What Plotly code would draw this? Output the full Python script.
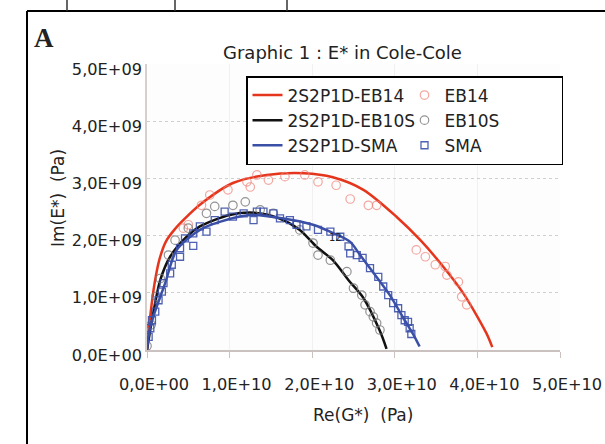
import plotly.graph_objects as go

# ---------------- data (x in 1e10 Pa for Re, y in 1e9 Pa for Im) ----------------
fit_eb14_x = [0.0, 0.04, 0.09, 0.15, 0.23, 0.33, 0.46, 0.64, 1.04, 1.45, 1.90, 2.25, 2.62, 3.02, 3.31, 3.55, 3.83, 4.11, 4.18]
fit_eb14_y = [0.0, 0.60, 1.15, 1.58, 1.90, 2.10, 2.30, 2.54, 2.92, 3.06, 3.09, 3.02, 2.80, 2.33, 1.92, 1.52, 0.99, 0.29, 0.05]

eb14_x = [0.44, 0.50, 0.66, 0.76, 0.98, 1.21, 1.25, 1.33, 1.47, 1.67, 1.91, 2.07, 2.29, 2.46, 2.68, 2.78,
          3.26, 3.37, 3.49, 3.61, 3.63, 3.77, 3.81, 3.87]
eb14_y = [2.13, 2.19, 2.53, 2.71, 2.80, 2.94, 2.85, 3.06, 2.97, 3.03, 3.06, 2.94, 2.88, 2.64, 2.53, 2.53,
          1.75, 1.63, 1.49, 1.46, 1.31, 1.19, 0.93, 0.79]

fit_eb10s_x = [0.0, 0.06, 0.16, 0.28, 0.48, 0.64, 1.00, 1.30, 1.60, 1.85, 2.05, 2.25, 2.44, 2.62, 2.82, 2.90]
fit_eb10s_y = [0.0, 0.52, 1.22, 1.63, 1.98, 2.16, 2.36, 2.40, 2.30, 2.10, 1.81, 1.57, 1.22, 0.91, 0.33, 0.02]

eb10s_x = [0.0, 0.05, 0.11, 0.16, 0.26, 0.34, 0.50, 0.72, 0.82, 1.04, 1.19, 1.37, 1.53, 1.85, 2.01, 2.07,
           2.22, 2.42, 2.50, 2.60, 2.64, 2.70, 2.74, 2.78, 2.82]
eb10s_y = [0.07, 0.44, 0.94, 1.25, 1.66, 1.92, 2.13, 2.39, 2.51, 2.53, 2.59, 2.45, 2.39, 2.10, 1.87, 1.66,
           1.57, 1.37, 1.08, 0.96, 0.79, 0.67, 0.58, 0.47, 0.35]

fit_sma_x = [0.0, 0.04, 0.22, 0.36, 0.64, 0.88, 1.25, 1.65, 2.01, 2.26, 2.46, 2.58, 2.70, 2.94, 3.12, 3.24, 3.30]
fit_sma_y = [0.0, 0.41, 1.17, 1.75, 2.10, 2.24, 2.36, 2.30, 2.19, 2.04, 1.89, 1.66, 1.43, 0.96, 0.52, 0.23, 0.06]

sma_x = [0.02, 0.04, 0.06, 0.10, 0.14, 0.18, 0.20, 0.28, 0.30, 0.40, 0.40, 0.46, 0.56, 0.56, 0.64, 0.72,
         0.82, 0.94, 1.04, 1.17, 1.29, 1.33, 1.41, 1.53, 1.61, 1.73, 1.81, 1.93, 2.07, 2.22, 2.34, 2.44,
         2.46, 2.54, 2.61, 2.70, 2.80, 2.86, 2.92, 2.98, 3.04, 3.08, 3.12, 3.16, 3.18, 3.20]
sma_y = [0.23, 0.38, 0.52, 0.67, 0.87, 1.02, 1.17, 1.34, 1.49, 1.63, 1.78, 1.95, 1.82, 2.04, 2.16, 2.07,
         2.27, 2.42, 2.33, 2.39, 2.27, 2.42, 2.42, 2.39, 2.30, 2.27, 2.19, 2.16, 2.10, 2.07, 1.98, 1.81,
         1.69, 1.66, 1.61, 1.43, 1.28, 1.11, 0.96, 0.82, 0.73, 0.61, 0.52, 0.49, 0.38, 0.28]

x_tickvals = [0, 1e10, 2e10, 3e10, 4e10, 5e10]
x_ticktext = ["0,0E+00", "1,0E+10", "2,0E+10", "3,0E+10", "4,0E+10", "5,0E+10"]
y_tickvals = [0, 1e9, 2e9, 3e9, 4e9, 5e9]
y_ticktext = ["0,0E+00", "1,0E+09", "2,0E+09", "3,0E+09", "4,0E+09", "5,0E+09"]

sx = lambda a: [v * 1e10 for v in a]
sy = lambda a: [v * 1e9 for v in a]

FONT = "DejaVu Sans, Liberation Sans, sans-serif"
RED, BLACK, BLUE = "#e5361d", "#111111", "#3a4fa6"

fig = go.Figure()
fig.add_trace(go.Scatter(x=sx(fit_eb14_x), y=sy(fit_eb14_y), mode="lines", name="2S2P1D-EB14",
                         line=dict(color=RED, width=2.5, shape="spline", smoothing=0.8)))
fig.add_trace(go.Scatter(x=sx(eb14_x), y=sy(eb14_y), mode="markers", name="EB14",
                         marker=dict(symbol="circle-open", size=8.5, color="rgba(238,130,120,0.7)",
                                     line=dict(width=1.2))))
fig.add_trace(go.Scatter(x=sx(fit_eb10s_x), y=sy(fit_eb10s_y), mode="lines", name="2S2P1D-EB10S",
                         line=dict(color=BLACK, width=2.5, shape="spline", smoothing=0.8)))
fig.add_trace(go.Scatter(x=sx(eb10s_x), y=sy(eb10s_y), mode="markers", name="EB10S",
                         marker=dict(symbol="circle-open", size=8.5, color="rgba(120,120,120,0.8)",
                                     line=dict(width=1.2))))
fig.add_trace(go.Scatter(x=sx(fit_sma_x), y=sy(fit_sma_y), mode="lines", name="2S2P1D-SMA",
                         line=dict(color=BLUE, width=2.5, shape="spline", smoothing=0.8)))
fig.add_trace(go.Scatter(x=sx(sma_x), y=sy(sma_y), mode="markers", name="SMA",
                         marker=dict(symbol="square-open", size=7, color="rgba(60,80,170,0.9)",
                                     line=dict(width=1.3))))

L, R, T, B = 147, 45, 64, 94
W, H = 605, 444
PW, PH = W - L - R, H - T - B


def px(x):
    return (x - L) / PW


def py(y):
    return (H - B - y) / PH


TICKFONT = dict(family=FONT, size=16.2, color="#222222")

fig.update_layout(
    width=W, height=H,
    margin=dict(l=L, r=R, t=T, b=B, pad=0, autoexpand=False),
    paper_bgcolor="white", plot_bgcolor="#fdfdfd",
    font=dict(family=FONT, size=16, color="#222222"),
    showlegend=True,
    legend=dict(x=px(246), y=py(76), xanchor="left", yanchor="top", orientation="h",
                entrywidth=112, bgcolor="white", bordercolor="black", borderwidth=1.5,
                font=dict(family=FONT, size=17, color="#222222"), itemwidth=30,
                traceorder="normal"),
    xaxis=dict(range=[0, 5e10], tickvals=x_tickvals, ticktext=x_ticktext, tickangle=0,
               showline=True, linecolor="#cbc2bf", linewidth=1.5, ticks="outside", ticklen=6,
               tickcolor="#cbc2bf", showgrid=True, gridcolor="#f1f1f1", gridwidth=1,
               zeroline=False, ticklabelshift=7, ticklabelstandoff=13, tickfont=TICKFONT,
               automargin=False),
    yaxis=dict(range=[0, 5e9], tickvals=y_tickvals, ticktext=y_ticktext,
               showline=True, linecolor="#d6cfcc", linewidth=1.5, ticks="",
               showgrid=True, gridcolor="#cfcfcf", griddash="dot", gridwidth=1,
               zeroline=False, ticklabelshift=5, ticklabelstandoff=0, tickfont=TICKFONT,
               automargin=False),
)

# legend shadow
fig.add_shape(type="rect", xref="paper", yref="paper", x0=px(251), x1=px(559), y0=py(159), y1=py(80),
              fillcolor="black", line=dict(width=0), layer="below")
# frame lines
fig.add_shape(type="line", xref="paper", yref="paper", x0=px(27), x1=px(27), y0=py(11), y1=py(450),
              line=dict(color="black", width=2))
fig.add_shape(type="line", xref="paper", yref="paper", x0=px(27), x1=px(610), y0=py(11), y1=py(11),
              line=dict(color="black", width=2))
for xx in (67, 175, 287):
    fig.add_shape(type="line", xref="paper", yref="paper", x0=px(xx), x1=px(xx), y0=py(0), y1=py(11),
                  line=dict(color="#333333", width=1.5))


def label(text, x, y, size, family=FONT, angle=0):
    fig.add_annotation(text=text, xref="paper", yref="paper", x=px(x), y=py(y), showarrow=False,
                       xanchor="center", yanchor="middle", textangle=angle,
                       font=dict(family=family, size=size, color="#222222"))


label("<b>A</b>", 44, 38, 27, family="Liberation Serif, serif")
label("Graphic 1 : E* in Cole-Cole", 342, 52, 18)
label("Re(G*)  (Pa)", 363, 415, 17)
label("Im(E*)  (Pa)", 58, 198, 17, angle=-90)
fig.add_annotation(text="12", x=2.28e10, y=1.96e9, showarrow=False, xanchor="center", yanchor="middle",
                   font=dict(family=FONT, size=10, color="#222222"))

fig.write_html("out.html")
